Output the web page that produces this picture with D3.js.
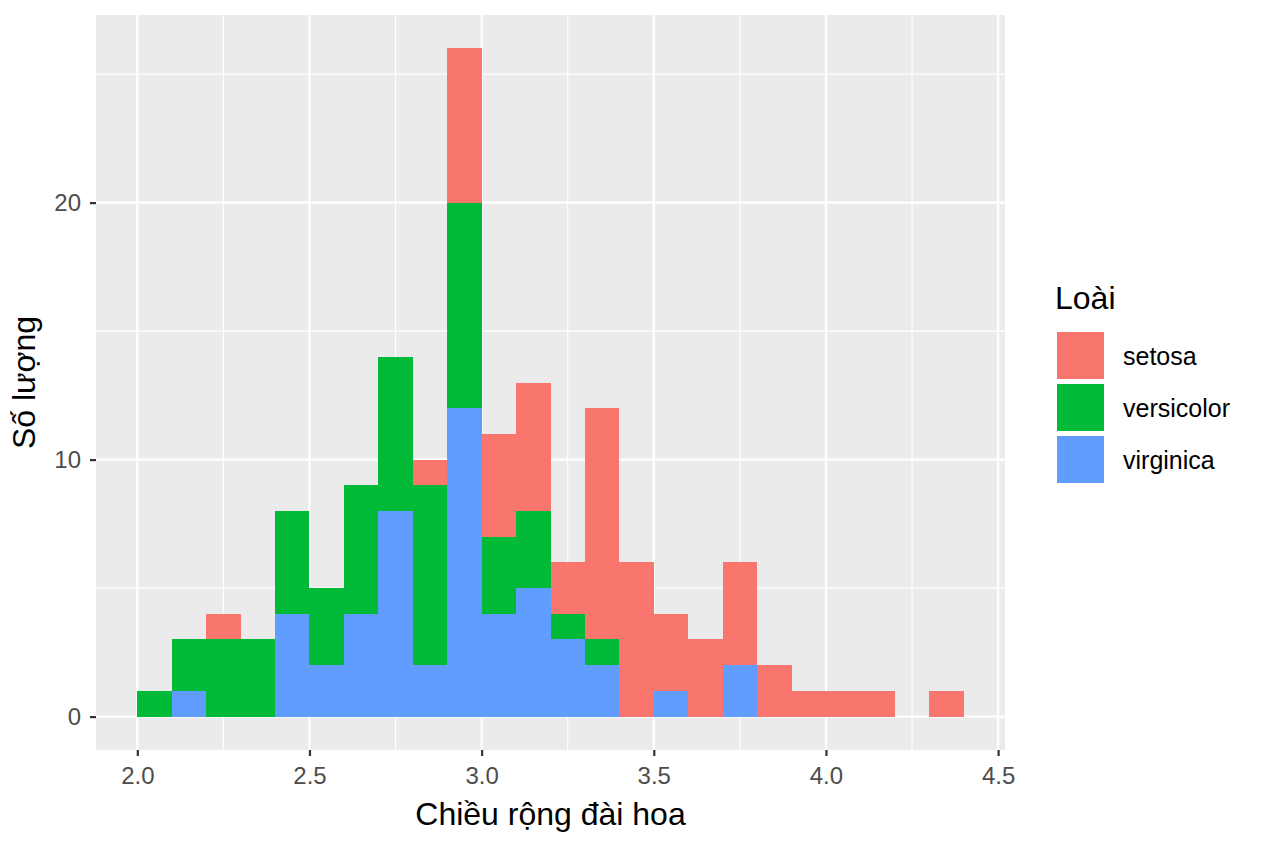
<!DOCTYPE html>
<html>
<head>
<meta charset="utf-8">
<script src="https://cdn.jsdelivr.net/npm/d3@7"></script>
<style>
  body { margin: 0; background: #fff; }
  svg text { font-family: "Liberation Sans", Arial, sans-serif; }
</style>
</head>
<body>
<div id="chart"></div>
<script>
// bin starts (width 0.1)
const binStarts = [2.0, 2.1, 2.2, 2.3, 2.4, 2.5, 2.6, 2.7, 2.8, 2.9, 3.0, 3.1,
  3.2, 3.3, 3.4, 3.5, 3.6, 3.7, 3.8, 3.9, 4.0, 4.1, 4.2, 4.3];
const species = ["setosa", "versicolor", "virginica"];
const setosa     = [0, 0, 1, 0, 0, 0, 0, 0, 1, 6, 4, 5, 2, 9, 6, 3, 3, 4, 2, 1, 1, 1, 0, 1];
const versicolor = [1, 2, 3, 3, 4, 3, 5, 6, 7, 8, 3, 3, 1, 1, 0, 0, 0, 0, 0, 0, 0, 0, 0, 0];
const virginica  = [0, 1, 0, 0, 4, 2, 4, 8, 2, 12, 4, 5, 3, 2, 0, 1, 0, 2, 0, 0, 0, 0, 0, 0];
const xTicks = [2.0, 2.5, 3.0, 3.5, 4.0, 4.5];
const yTicks = [0, 10, 20];
const colors = { setosa: "#F8766D", versicolor: "#00BA38", virginica: "#619CFF" };

(function(){
  const W = 1264, H = 848;
  const panel = { left: 96, right: 1005, top: 15, bottom: 750 };
  const binW = 0.1;

  const svg = d3.select("#chart").append("svg")
    .attr("width", W).attr("height", H);

  const table = binStarts.map((b, i) => ({
    bin: b, setosa: setosa[i], versicolor: versicolor[i], virginica: virginica[i]
  }));
  // ggplot stacks first level on top: virginica at the bottom
  const stack = d3.stack().keys(["virginica", "versicolor", "setosa"])(table);

  const xMin = binStarts[0], xMax = binStarts[binStarts.length - 1] + binW;
  const xPad = (xMax - xMin) * 0.05;
  const x = d3.scaleLinear().domain([xMin - xPad, xMax + xPad]).range([panel.left, panel.right]);
  const yMaxVal = d3.max(table, d => d.setosa + d.versicolor + d.virginica);
  const yPad = yMaxVal * 0.05;
  const y = d3.scaleLinear().domain([-yPad, yMaxVal + yPad]).range([panel.bottom, panel.top]);

  // panel background
  svg.append("rect")
    .attr("x", panel.left).attr("y", panel.top)
    .attr("width", panel.right - panel.left).attr("height", panel.bottom - panel.top)
    .attr("fill", "#EBEBEB");

  // minor grid
  const xMinor = xTicks.slice(0, -1).map(v => v + 0.25);
  const yMinor = [5, 15, 25];
  svg.append("g").selectAll("line").data(xMinor).enter().append("line")
    .attr("x1", d => x(d)).attr("x2", d => x(d))
    .attr("y1", panel.top).attr("y2", panel.bottom)
    .attr("stroke", "#fff").attr("stroke-width", 1.1);
  svg.append("g").selectAll("line").data(yMinor).enter().append("line")
    .attr("x1", panel.left).attr("x2", panel.right)
    .attr("y1", d => y(d)).attr("y2", d => y(d))
    .attr("stroke", "#fff").attr("stroke-width", 1.1);
  // major grid
  svg.append("g").selectAll("line").data(xTicks).enter().append("line")
    .attr("x1", d => x(d)).attr("x2", d => x(d))
    .attr("y1", panel.top).attr("y2", panel.bottom)
    .attr("stroke", "#fff").attr("stroke-width", 2.2);
  svg.append("g").selectAll("line").data(yTicks).enter().append("line")
    .attr("x1", panel.left).attr("x2", panel.right)
    .attr("y1", d => y(d)).attr("y2", d => y(d))
    .attr("stroke", "#fff").attr("stroke-width", 2.2);

  // bars
  svg.append("g").selectAll("g").data(stack).enter().append("g")
    .attr("fill", d => colors[d.key])
    .selectAll("rect").data(d => d.filter(s => s[1] > s[0])).enter().append("rect")
    .attr("x", d => x(d.data.bin))
    .attr("width", d => x(d.data.bin + binW) - x(d.data.bin))
    .attr("y", d => y(d[1]))
    .attr("height", d => y(d[0]) - y(d[1]))
    .attr("shape-rendering", "crispEdges");

  // axes
  const xAxis = svg.append("g")
    .attr("transform", `translate(0,${panel.bottom})`)
    .call(d3.axisBottom(x).tickValues(xTicks).tickFormat(d3.format(".1f")).tickSize(6).tickPadding(11));
  const yAxis = svg.append("g")
    .attr("transform", `translate(${panel.left},0)`)
    .call(d3.axisLeft(y).tickValues(yTicks).tickSize(6).tickPadding(9));
  [xAxis, yAxis].forEach(a => {
    a.select(".domain").remove();
    a.selectAll(".tick line").attr("stroke", "#333").attr("stroke-width", 2.2);
    a.selectAll(".tick text").attr("fill", "#4D4D4D").attr("font-size", 24)
      .attr("font-family", "Liberation Sans, Arial, sans-serif");
  });

  // axis titles
  svg.append("text")
    .attr("x", (panel.left + panel.right) / 2).attr("y", 825)
    .attr("text-anchor", "middle").attr("font-size", 32).attr("fill", "#000")
    .text("Chiều rộng đài hoa");
  svg.append("text")
    .attr("transform", `translate(35,${(panel.top + panel.bottom) / 2}) rotate(-90)`)
    .attr("text-anchor", "middle").attr("font-size", 32).attr("fill", "#000")
    .text("Số lượng");

  // legend
  const legend = svg.append("g").attr("transform", "translate(1055,0)");
  legend.append("text").attr("x", 0).attr("y", 309)
    .attr("font-size", 32).attr("fill", "#000").text("Loài");
  const items = legend.selectAll("g.item").data(species).enter().append("g")
    .attr("transform", (d, i) => `translate(0,${332 + i * 52})`);
  items.append("rect").attr("x", 2).attr("y", 0).attr("width", 47).attr("height", 47)
    .attr("fill", d => colors[d]);
  items.append("text").attr("x", 68).attr("y", 24).attr("dy", "0.35em")
    .attr("font-size", 25).attr("fill", "#000").text(d => d);
})();
</script>
</body>
</html>
